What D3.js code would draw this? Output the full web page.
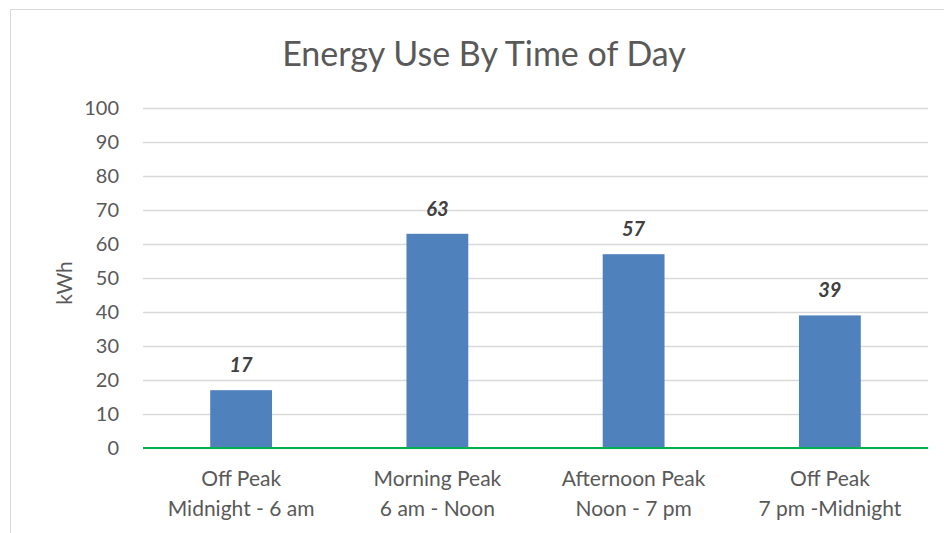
<!DOCTYPE html>
<html>
<head>
<meta charset="utf-8">
<script src="https://cdn.jsdelivr.net/npm/d3@7"></script>
<style>
  body { margin: 0; background: #fff; }
  text { font-family: Lato, "Open Sans", sans-serif; }
</style>
</head>
<body>
<svg id="chart" width="944" height="533"></svg>
<script>
const categories = ["Off Peak|Midnight - 6 am", "Morning Peak|6 am - Noon", "Afternoon Peak|Noon - 7 pm", "Off Peak|7 pm -Midnight"];
const values = [17, 63, 57, 39];
const yTicks = [0, 10, 20, 30, 40, 50, 60, 70, 80, 90, 100];

var svg = d3.select("svg#chart"),
  margin = { top: 108, right: 16, bottom: 85, left: 143 },
  width = +svg.attr("width") - margin.left - margin.right,
  height = +svg.attr("height") - margin.top - margin.bottom;

// chart border
svg.append("rect")
  .attr("x", 10.5).attr("y", 9.5)
  .attr("width", 960).attr("height", 560)
  .attr("fill", "none")
  .attr("stroke", "#d9d9d9");

svg.append("text")
  .attr("x", 484).attr("y", 66)
  .attr("text-anchor", "middle")
  .attr("fill", "#595959")
  .style("font-size", "34px")
  .text("Energy Use By Time of Day");

const g = svg.append("g").attr("transform", `translate(${margin.left},${margin.top})`);

const x = d3.scaleBand().domain(categories).range([0, width]).paddingInner(0.685).paddingOuter(0.3425);
const y = d3.scaleLinear().domain([0, 100]).range([height, 0]);

// gridlines + y labels
g.append("g")
  .call(d3.axisLeft(y).tickValues(yTicks).tickSize(-width).tickPadding(24))
  .call((a) => {
    a.select(".domain").remove();
    a.selectAll(".tick line").attr("stroke", "#d9d9d9").attr("stroke-width", 1.5);
    a.selectAll(".tick text").attr("fill", "#595959").style("font-size", "20px");
  });

g.selectAll("rect.bar")
  .data(values)
  .join("rect")
  .attr("class", "bar")
  .attr("x", (d, i) => x(categories[i]))
  .attr("width", x.bandwidth())
  .attr("y", (d) => y(d))
  .attr("height", (d) => height - y(d))
  .attr("fill", "#4f81bd");

// baseline
g.append("line")
  .attr("x1", 0).attr("x2", width)
  .attr("y1", y(0)).attr("y2", y(0))
  .attr("stroke", "#00b050").attr("stroke-width", 2);

g.selectAll("text.val")
  .data(values)
  .join("text")
  .attr("class", "val")
  .attr("x", (d, i) => x(categories[i]) + x.bandwidth() / 2)
  .attr("y", (d) => y(d) - 18)
  .attr("text-anchor", "middle")
  .attr("fill", "#404040")
  .style("font-size", "20px")
  .style("font-weight", "bold")
  .style("font-style", "italic")
  .text((d) => d);

// category labels
const cat = g.selectAll("text.cat")
  .data(categories)
  .join("text")
  .attr("class", "cat")
  .attr("text-anchor", "middle")
  .attr("fill", "#595959")
  .style("font-size", "21px")
  .attr("transform", (d) => `translate(${x(d) + x.bandwidth() / 2},${height + 38})`);
cat.selectAll("tspan")
  .data((d) => d.split("|"))
  .join("tspan")
  .attr("x", 0)
  .attr("dy", (d, i) => (i === 0 ? 0 : 30))
  .text((d) => d);

svg.append("text")
  .attr("transform", "translate(72,283) rotate(-90)")
  .attr("text-anchor", "middle")
  .attr("fill", "#595959")
  .style("font-size", "21px")
  .text("kWh");
</script>
</body>
</html>
